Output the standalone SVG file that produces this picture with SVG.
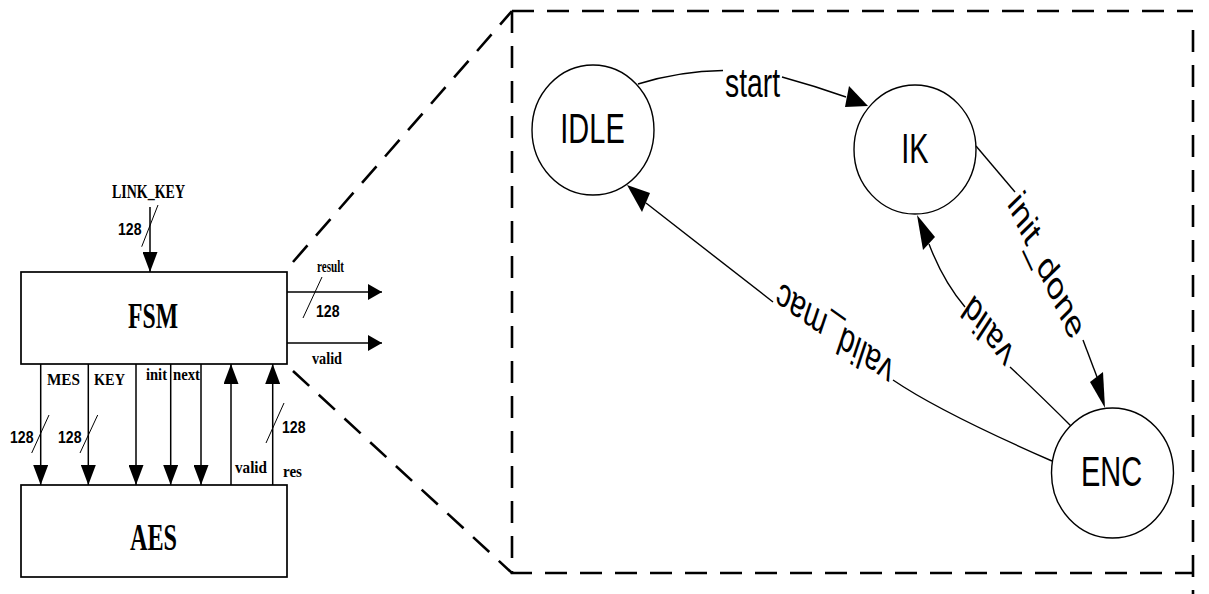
<svg xmlns="http://www.w3.org/2000/svg" width="1209" height="594" viewBox="0 0 1209 594">
  <style>
    .box { fill: #fff; stroke: #000; stroke-width: 1.7; }
    .sig { fill: none; stroke: #000; stroke-width: 1.5; }
    .tick { fill: none; stroke: #000; stroke-width: 1; }
    .frame { fill: none; stroke: #000; stroke-width: 2.6; stroke-dasharray: 22 13; }
    .state { fill: #fff; stroke: #000; stroke-width: 1.4; }
    .edge { fill: none; stroke: #000; stroke-width: 1.4; }
    .head { fill: #000; stroke: none; }
    .tb { font-family: "Liberation Serif", "Times New Roman", serif; font-weight: bold; fill: #000; }
    .num { font-family: "Liberation Sans", Arial, sans-serif; font-weight: bold; font-size: 16px; fill: #000; }
    .st { font-family: "Liberation Sans", Arial, sans-serif; font-size: 42px; fill: #000; }
    .lbl { font-family: "Liberation Sans", Arial, sans-serif; font-size: 41px; fill: #000; }
  </style>
  <defs>
    <!-- filled arrowheads for the block-level signals -->
    <marker id="ahV" viewBox="0 0 20 15" refX="20" refY="7.5" markerWidth="20" markerHeight="15" markerUnits="userSpaceOnUse" orient="auto">
      <path d="M0,0 L20,7.5 L0,15 z" fill="#000"/>
    </marker>
    <marker id="ahH" viewBox="0 0 14 16" refX="14" refY="8" markerWidth="14" markerHeight="16" markerUnits="userSpaceOnUse" orient="auto">
      <path d="M0,0 L14,8 L0,16 z" fill="#000"/>
    </marker>
  </defs>

  <rect width="1209" height="594" fill="#fff"/>

  <!-- zoom frame around the state machine -->
  <g id="zoom-frame">
    <path class="frame" d="M293,262 L512,11"/>
    <path class="frame" d="M293,371 L512,573"/>
    <path class="frame" d="M512,11 H1193"/>
    <path class="frame" d="M512,11 V573 H1193"/>
    <path class="frame" d="M1193,30 V594"/>
  </g>

  <!-- FSM block -->
  <g id="fsm">
    <rect class="box" x="21" y="272" width="266" height="92"/>
    <text class="tb" x="128" y="328" font-size="35" textLength="50" lengthAdjust="spacingAndGlyphs">FSM</text>
  </g>

  <!-- AES block -->
  <g id="aes">
    <rect class="box" x="21" y="485" width="266" height="92"/>
    <text class="tb" x="130" y="550" font-size="37" textLength="47" lengthAdjust="spacingAndGlyphs">AES</text>
  </g>

  <!-- block-level signals -->
  <g id="connectors">
    <!-- LINK_KEY input -->
    <line class="sig" x1="150" y1="207" x2="150" y2="272" marker-end="url(#ahV)"/>
    <line class="tick" x1="141.7" y1="246.7" x2="158" y2="205"/>
    <!-- outputs -->
    <line class="sig" x1="287" y1="292" x2="382" y2="292" marker-end="url(#ahH)"/>
    <line class="tick" x1="303" y1="318" x2="322" y2="277"/>
    <line class="sig" x1="287" y1="343" x2="382" y2="343" marker-end="url(#ahH)"/>
    <!-- FSM to AES -->
    <line class="sig" x1="40.7" y1="364" x2="40.7" y2="485" marker-end="url(#ahV)"/>
    <line class="tick" x1="31.7" y1="453" x2="49" y2="415"/>
    <line class="sig" x1="88.3" y1="364" x2="88.3" y2="485" marker-end="url(#ahV)"/>
    <line class="tick" x1="80" y1="453" x2="97.7" y2="415"/>
    <line class="sig" x1="136" y1="364" x2="136" y2="485" marker-end="url(#ahV)"/>
    <line class="sig" x1="170.7" y1="364" x2="170.7" y2="485" marker-end="url(#ahV)"/>
    <line class="sig" x1="201" y1="364" x2="201" y2="485" marker-end="url(#ahV)"/>
    <!-- AES to FSM -->
    <line class="sig" x1="231" y1="485" x2="231" y2="364" marker-end="url(#ahV)"/>
    <line class="sig" x1="272.7" y1="485" x2="272.7" y2="364" marker-end="url(#ahV)"/>
    <line class="tick" x1="266" y1="443" x2="284" y2="403"/>

    <!-- state transitions -->
    <path class="edge" d="M638,84 Q680,71 723,70.5"/>
    <path class="edge" d="M782,77 Q815,86 846,97"/>
    <polygon class="head" points="868,106 845,107 849,86"/>

    <path class="edge" d="M976,146 L1015,192"/>
    <path class="edge" d="M1083,340 L1097,377"/>
    <polygon class="head" points="1105,408 1090,382 1103,372"/>

    <path class="edge" d="M1073,428 Q1040,395 1010,367"/>
    <path class="edge" d="M965,307 Q943,281 929,244"/>
    <polygon class="head" points="917,215 923,250 935,237"/>

    <path class="edge" d="M1052,461 Q940,412 893,380"/>
    <path class="edge" d="M773,302 L646,203"/>
    <polygon class="head" points="627,185 650,193 642,212"/>
  </g>

  <!-- signal labels -->
  <g id="signal-labels">
    <text class="tb" x="112" y="198" font-size="19" textLength="73" lengthAdjust="spacingAndGlyphs">LINK_KEY</text>
    <text class="num" x="118" y="235" textLength="23.5" lengthAdjust="spacingAndGlyphs">128</text>
    <text class="tb" x="317" y="272" font-size="17.5" textLength="27" lengthAdjust="spacingAndGlyphs">result</text>
    <text class="num" x="316" y="317" textLength="23.5" lengthAdjust="spacingAndGlyphs">128</text>
    <text class="tb" x="312" y="364" font-size="17.5" textLength="30" lengthAdjust="spacingAndGlyphs">valid</text>
    <text class="tb" x="47" y="385" font-size="17.5" textLength="33" lengthAdjust="spacingAndGlyphs">MES</text>
    <text class="tb" x="94" y="385" font-size="17.5" textLength="31" lengthAdjust="spacingAndGlyphs">KEY</text>
    <text class="tb" x="146" y="380" font-size="17.5" textLength="21" lengthAdjust="spacingAndGlyphs">init</text>
    <text class="tb" x="173" y="380" font-size="17.5" textLength="27" lengthAdjust="spacingAndGlyphs">next</text>
    <text class="num" x="10" y="443" textLength="23.5" lengthAdjust="spacingAndGlyphs">128</text>
    <text class="num" x="58" y="443" textLength="23.5" lengthAdjust="spacingAndGlyphs">128</text>
    <text class="num" x="282" y="433" textLength="23.5" lengthAdjust="spacingAndGlyphs">128</text>
    <text class="tb" x="235" y="473" font-size="17.5" textLength="32" lengthAdjust="spacingAndGlyphs">valid</text>
    <text class="tb" x="283" y="477" font-size="17.5" textLength="19" lengthAdjust="spacingAndGlyphs">res</text>
  </g>

  <!-- states -->
  <g id="state-idle">
    <ellipse class="state" cx="593" cy="130" rx="61" ry="65"/>
    <text class="st" text-anchor="middle" transform="translate(592.5,143) scale(0.69,1)">IDLE</text>
  </g>
  <g id="state-ik">
    <ellipse class="state" cx="915" cy="149.5" rx="61" ry="64.5"/>
    <text class="st" text-anchor="middle" transform="translate(915,163) scale(0.69,1)">IK</text>
  </g>
  <g id="state-enc">
    <ellipse class="state" cx="1112.5" cy="473" rx="61" ry="65"/>
    <text class="st" text-anchor="middle" transform="translate(1111.5,486) scale(0.69,1)">ENC</text>
  </g>

  <!-- transition labels -->
  <g id="transition-labels">
    <text class="lbl" text-anchor="middle" transform="translate(752.5,97) scale(0.69,1)">start</text>
    <text class="lbl" text-anchor="middle" y="10.7" transform="translate(1045,267) scale(0.69,1) rotate(55.9)">init_done</text>
    <text class="lbl" text-anchor="middle" y="10.7" transform="translate(989,330) scale(0.69,1) rotate(-136.4)">valid</text>
    <text class="lbl" text-anchor="middle" y="10.7" transform="translate(835,332) scale(0.69,1) rotate(-154.1)">valid_mac</text>
  </g>
</svg>
